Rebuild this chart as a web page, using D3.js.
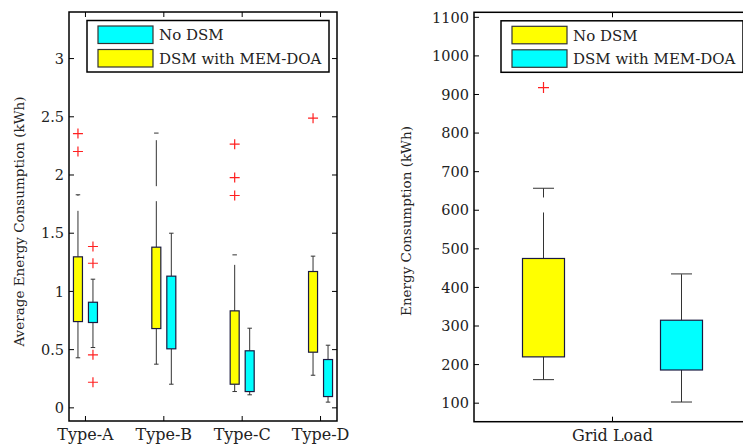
<!DOCTYPE html>
<html lang="en">
<head>
    <meta charset="UTF-8">
    <title>Energy consumption box plots</title>
    <script src="https://d3js.org/d3.v7.min.js"></script>
    <style>
        body { margin: 0; background-color: #fff; }
        text { font-family: "DejaVu Serif", serif; fill: #222; }
        .frame { fill: none; stroke: #000; stroke-width: 1.5; }
        .whisker { stroke: #333; stroke-width: 1; stroke-dasharray: 46 15; }
        .cap { stroke: #333; stroke-width: 1; }
        .box { stroke: #1a1a40; stroke-width: 1.2; }
        .outlier { stroke: #ff2020; stroke-width: 1.2; }
        .tick-mark { stroke: #000; stroke-width: 1; }
    </style>
</head>
<body>
    <div id="chart"></div>
    <script type="text/javascript">
        // ---- left panel data (average per appliance type, kWh) ----
        const types = ["Type-A", "Type-B", "Type-C", "Type-D"];
        const leftTicks = [0, 0.5, 1, 1.5, 2, 2.5, 3];
        // series "No DSM" (cyan) and "DSM with MEM-DOA" (yellow) as drawn in the figure
        const dsmLow = [0.43, 0.375, 0.14, 0.28];
        const dsmQ1 = [0.741, 0.681, 0.203, 0.478];
        const dsmQ3 = [1.297, 1.38, 0.833, 1.171];
        const dsmHigh = [1.83, 2.36, 1.314, 1.303];
        const dsmOut = [[2.356, 2.202], [], [2.265, 1.978, 1.824], [2.488]];
        const noLow = [0.518, 0.203, 0.112, 0.049];
        const noQ1 = [0.733, 0.507, 0.14, 0.097];
        const noQ3 = [0.907, 1.131, 0.49, 0.415];
        const noHigh = [1.105, 1.5, 0.684, 0.538];
        const noOut = [[1.386, 1.242, 0.455, 0.22], [], [], []];

        // ---- right panel data (grid load, kWh) ----
        const gridCats = ["Grid Load"];
        const gridTicks = [100, 200, 300, 400, 500, 600, 700, 800, 900, 1000, 1100];
        const gridNoDsm = { low: 161, q1: 220, q3: 475, high: 657, out: [918] };
        const gridDsm = { low: 103, q1: 186, q3: 315, high: 435, out: [] };

        const W = 743, H = 448;
        const YELLOW = "#ffff00", CYAN = "#00ffff";

        const svg = d3.select("#chart").append("svg")
            .attr("width", W).attr("height", H);
        svg.append("rect").attr("width", W).attr("height", H).attr("fill", "#fff");

        function drawPanel(opt) {
            const g = svg.append("g");
            const x = d3.scalePoint().domain(opt.cats).range([opt.left, opt.right]).padding(opt.pad);
            const y = d3.scaleLinear().domain(opt.domain).range([opt.bottom, opt.top]);

            // y tick marks (inside, both sides) and labels
            opt.ticks.forEach(t => {
                g.append("line").attr("class", "tick-mark")
                    .attr("x1", opt.left).attr("x2", opt.left + 5)
                    .attr("y1", y(t)).attr("y2", y(t));
                g.append("line").attr("class", "tick-mark")
                    .attr("x1", opt.right).attr("x2", opt.right - 5)
                    .attr("y1", y(t)).attr("y2", y(t));
                g.append("text").attr("x", opt.left - 5).attr("y", y(t))
                    .attr("dy", "0.36em").attr("text-anchor", "end")
                    .style("font-size", "14.5px").text(t);
            });
            // x tick marks (inside, top and bottom) and labels
            opt.cats.forEach(c => {
                g.append("line").attr("class", "tick-mark")
                    .attr("x1", x(c)).attr("x2", x(c))
                    .attr("y1", opt.bottom).attr("y2", opt.bottom - 5);
                g.append("line").attr("class", "tick-mark")
                    .attr("x1", x(c)).attr("x2", x(c))
                    .attr("y1", opt.top).attr("y2", opt.top + 5);
                g.append("text").attr("x", x(c)).attr("y", opt.bottom + 19)
                    .attr("text-anchor", "middle").style("font-size", "16px").text(c);
            });

            // boxes
            opt.series.forEach(s => {
                s.stats.forEach((d, i) => {
                    const cx = x(opt.cats[i]) + s.offset;
                    const bw = opt.boxW, cw = opt.boxW * 0.5;
                    // whiskers drawn outward from the box edge
                    g.append("line").attr("class", "whisker")
                        .attr("x1", cx).attr("x2", cx).attr("y1", y(d.q3)).attr("y2", y(d.high));
                    g.append("line").attr("class", "whisker")
                        .attr("x1", cx).attr("x2", cx).attr("y1", y(d.q1)).attr("y2", y(d.low));
                    [d.high, d.low].forEach(v => {
                        g.append("line").attr("class", "cap")
                            .attr("x1", cx - cw / 2).attr("x2", cx + cw / 2)
                            .attr("y1", y(v)).attr("y2", y(v));
                    });
                    g.append("rect").attr("class", "box")
                        .attr("x", cx - bw / 2).attr("width", bw)
                        .attr("y", y(d.q3)).attr("height", y(d.q1) - y(d.q3))
                        .attr("fill", s.color);
                    d.out.forEach(v => {
                        const r = opt.plus;
                        g.append("path").attr("class", "outlier")
                            .attr("d", `M${cx - r},${y(v)}H${cx + r}M${cx},${y(v) - r}V${y(v) + r}`);
                    });
                });
            });

            // legend
            const lg = g.append("g");
            lg.append("rect").attr("class", "frame").attr("fill", "#fff")
                .attr("x", opt.right - 8 - 242).attr("y", opt.top + 8.5)
                .attr("width", 242).attr("height", 51.5).style("fill", "#fff");
            opt.legend.forEach((l, i) => {
                const ly = opt.top + 14 + i * 23.5;
                lg.append("rect").attr("x", opt.right - 8 - 242 + 11).attr("y", ly)
                    .attr("width", 55).attr("height", 17.5)
                    .attr("fill", l.color).attr("stroke", "#333").attr("stroke-width", 1.2);
                lg.append("text").attr("x", opt.right - 8 - 242 + 72).attr("y", ly + 9)
                    .attr("dy", "0.36em").style("font-size", "15px").text(l.name);
            });

            // frame
            g.append("rect").attr("class", "frame")
                .attr("x", opt.left).attr("y", opt.top)
                .attr("width", opt.right - opt.left).attr("height", opt.bottom - opt.top);

            // y axis label
            g.append("text")
                .attr("transform", `translate(${opt.ylabX},${(opt.top + opt.bottom) / 2 + opt.ylabDy}) rotate(-90)`)
                .attr("text-anchor", "middle").style("font-size", "13.5px").text(opt.ylabel);
        }

        function zipStats(low, q1, q3, high, out) {
            return low.map((_, i) => ({ low: low[i], q1: q1[i], q3: q3[i], high: high[i], out: out[i] }));
        }

        drawPanel({
            cats: types, left: 69, right: 337, top: 12, bottom: 421, pad: 0.21,
            domain: [-0.113, 3.4], ticks: leftTicks, boxW: 9, plus: 5,
            series: [
                { color: YELLOW, offset: -7.5, stats: zipStats(dsmLow, dsmQ1, dsmQ3, dsmHigh, dsmOut) },
                { color: CYAN, offset: 7.5, stats: zipStats(noLow, noQ1, noQ3, noHigh, noOut) }
            ],
            legend: [{ name: "No DSM", color: CYAN }, { name: "DSM with MEM-DOA", color: YELLOW }],
            ylabel: "Average Energy Consumption (kWh)", ylabX: 24, ylabDy: 5
        });

        drawPanel({
            cats: gridCats, left: 474, right: 751, top: 12.3, bottom: 421.7, pad: 0.5,
            domain: [52, 1113], ticks: gridTicks, boxW: 42, plus: 5.5,
            series: [
                { color: YELLOW, offset: -69, stats: [gridNoDsm] },
                { color: CYAN, offset: 69, stats: [gridDsm] }
            ],
            legend: [{ name: "No DSM", color: YELLOW }, { name: "DSM with MEM-DOA", color: CYAN }],
            ylabel: "Energy Consumption (kWh)", ylabX: 411, ylabDy: 4
        });
    </script>
</body>
</html>
